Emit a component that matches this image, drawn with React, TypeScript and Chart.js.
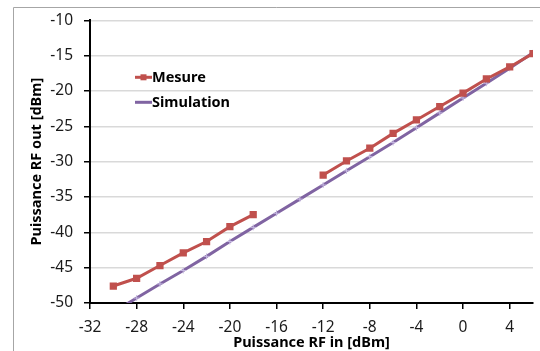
import React, { useEffect, useRef } from "react";
import { Chart, registerables } from "chart.js";

Chart.register(...registerables);

const xValues = [-30, -28, -26, -24, -22, -20, -18, -16, -14, -12, -10, -8, -6, -4, -2, 0, 2, 4, 6];
const mesure: (number | null)[] = [-47.6, -46.5, -44.7, -42.9, -41.3, -39.2, -37.5, null, null, -31.9, -29.9, -28.1, -26.0, -24.1, -22.2, -20.3, -18.3, -16.6, -14.7];
const simulation = [-51.3, -49.3, -47.3, -45.4, -43.4, -41.3, -39.3, -37.3, -35.3, -33.3, -31.3, -29.3, -27.3, -25.2, -23.1, -21.0, -18.9, -16.8, -14.6];
const seriesNames = ["Mesure", "Simulation"];
const seriesColors = ["#c0504d", "#8064a2"];
const xTicks = [-32, -28, -24, -20, -16, -12, -8, -4, 0, 4];
const yTicks = [-50, -45, -40, -35, -30, -25, -20, -15, -10];

const FONT = "'Noto Sans', sans-serif";

const framePlugin = {
  id: "frame",
  beforeDraw(chart: any) {
    const ctx = chart.ctx;
    ctx.save();
    ctx.strokeStyle = "#a6a6a6";
    ctx.lineWidth = 1;
    ctx.beginPath();
    ctx.moveTo(13.5, 351);
    ctx.lineTo(13.5, 7.5);
    ctx.lineTo(540, 7.5);
    ctx.stroke();
    ctx.restore();
  },
  afterDraw(chart: any) {
    const ctx = chart.ctx;
    const a = chart.chartArea;
    ctx.save();
    ctx.font = `bold 14.5px ${FONT}`;
    ctx.textBaseline = "middle";
    seriesNames.forEach((name, i) => {
      const y = a.top + 57 + i * 25;
      const x0 = a.left + 45;
      ctx.strokeStyle = seriesColors[i];
      ctx.lineWidth = 3;
      ctx.beginPath();
      ctx.moveTo(x0, y);
      ctx.lineTo(x0 + 17, y);
      ctx.stroke();
      if (i === 0) {
        ctx.fillStyle = seriesColors[i];
        ctx.fillRect(x0 + 5.5, y - 3, 6, 6);
      }
      ctx.fillStyle = "#000";
      ctx.fillText(name, x0 + 17, y + 1);
    });
    ctx.restore();
  },
};

export default function App() {
  const ref = useRef<HTMLCanvasElement | null>(null);
  useEffect(() => {
    document.body.style.margin = "0";
    const chart = new Chart(ref.current as HTMLCanvasElement, {
      type: "line",
      data: {
        datasets: [
          {
            label: seriesNames[0],
            data: xValues.map((x, i) => ({ x, y: mesure[i] })) as any,
            borderColor: seriesColors[0],
            backgroundColor: seriesColors[0],
            borderWidth: 3,
            pointStyle: "rect",
            pointRadius: 3,
            spanGaps: false,
          },
          {
            label: seriesNames[1],
            data: xValues.map((x, i) => ({ x, y: simulation[i] })) as any,
            borderColor: seriesColors[1],
            backgroundColor: "#b4a7d6",
            pointBorderColor: "#c5b8e0",
            borderWidth: 3,
            pointStyle: "cross",
            pointRadius: 3,
            pointBorderWidth: 1,
          },
        ],
      },
      options: {
        animation: false,
        responsive: false,
        layout: { padding: { top: 18, right: 3, left: 0, bottom: 0 } },
        plugins: { legend: { display: false }, tooltip: { enabled: false } },
        scales: {
          x: {
            type: "linear",
            min: -32,
            max: 6,
            afterBuildTicks: (s: any) => {
              s.ticks = xTicks.map((v) => ({ value: v }));
            },
            afterFit: (s: any) => {
              s.height = 48;
            },
            grid: { color: "rgba(0,0,0,0)", tickColor: "#000", tickLength: 6, lineWidth: 1.5 },
            border: { color: "#000", width: 2 },
            ticks: { color: "#1a1a1a", font: { family: FONT, size: 15.5 }, padding: 9, maxRotation: 0 },
            title: { display: true, text: "Puissance RF in [dBm]", color: "#000", font: { family: FONT, size: 14.5, weight: "bold" }, padding: { top: 0, bottom: -1 } },
          },
          y: {
            type: "linear",
            min: -50,
            max: -10,
            afterBuildTicks: (s: any) => {
              s.ticks = yTicks.map((v) => ({ value: v }));
            },
            afterFit: (s: any) => {
              s.width = 90;
            },
            grid: { color: "#d9d9d9", tickColor: "#000", tickLength: 6, lineWidth: 1.5 },
            border: { color: "#000", width: 2 },
            ticks: { color: "#1a1a1a", font: { family: FONT, size: 15.5 }, padding: 11 },
            title: { display: true, text: "Puissance RF out [dBm]", color: "#000", font: { family: FONT, size: 14.5, weight: "bold" }, padding: { top: 28, bottom: 0 } },
          },
        },
      },
      plugins: [framePlugin],
    });
    return () => chart.destroy();
  }, []);
  return (
    <div style={{ width: 540, height: 351 }}>
      <canvas ref={ref} width={540} height={351} />
    </div>
  );
}
